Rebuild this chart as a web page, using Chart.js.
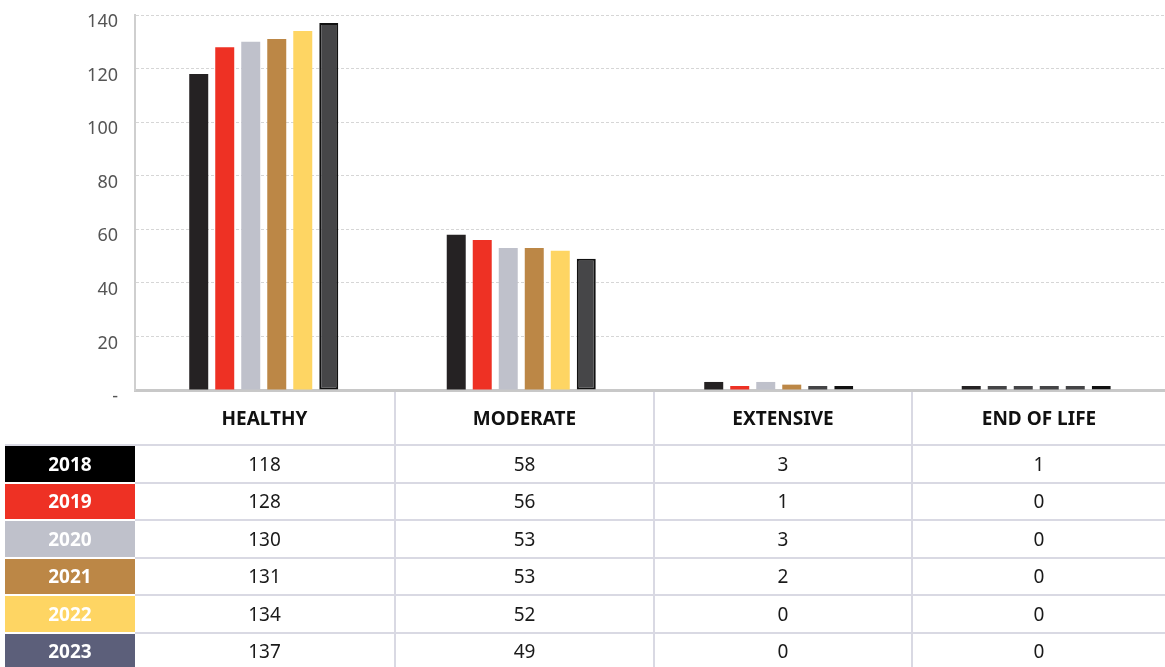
<!DOCTYPE html>
<html>
<head>
<meta charset="utf-8">
<script src="https://cdn.jsdelivr.net/npm/chart.js@4/dist/chart.umd.min.js"></script>
<style>
  html, body { margin: 0; padding: 0; background: #fff; }
  #wrap { position: relative; width: 1165px; height: 667px; overflow: hidden; }
  #chartBox { position: absolute; left: 0; top: 0; width: 1165px; height: 405px; }
  table {
    position: absolute; left: 5px; top: 392px;
    border-collapse: collapse; table-layout: fixed;
    font-family: "Noto Sans", sans-serif; color: #1a1a1a;
  }
  th, td { padding: 0; text-align: center; box-sizing: border-box; }
  th { height: 53px; font-size: 19px; font-weight: 700; color: #111;
       border-bottom: 2px solid #d9d9e3; }
  td { height: 37.5px; font-size: 19px; border-bottom: 2px solid #d9d9e3; }
  th:nth-child(n+3), td:nth-child(n+3) { border-left: 2px solid #d9d9e3; }
  td.year { color: #fff; font-weight: 700; border-bottom: 2px solid #fff; }
</style>
</head>
<body>
<div id="wrap">
  <div id="chartBox"><canvas id="chart1" width="1165" height="405"></canvas></div>
  <table id="tab">
    <colgroup>
      <col style="width:130px"><col style="width:260px"><col style="width:259px">
      <col style="width:258px"><col style="width:253px">
    </colgroup>
    <thead><tr id="head"><th></th></tr></thead>
    <tbody id="body"></tbody>
  </table>
</div>
<script>
// categorie e valori per anno
const categorie = ["HEALTHY", "MODERATE", "EXTENSIVE", "END OF LIFE"];
const anni = ["2018", "2019", "2020", "2021", "2022", "2023"];
const v2018 = [118, 58, 3, 1];
const v2019 = [128, 56, 1, 0];
const v2020 = [130, 53, 3, 0];
const v2021 = [131, 53, 2, 0];
const v2022 = [134, 52, 0, 0];
const v2023 = [137, 49, 0, 0];
const valori = [v2018, v2019, v2020, v2021, v2022, v2023];
const yTicks = [0, 20, 40, 60, 80, 100, 120, 140];

// colori barre e celle anno
const coloriBarre = ["#252223", "#ee3124", "#bfc1cb", "#bc8746", "#fed563", "#464648"];
const coloriCelle = ["#000000", "#ee3124", "#bfc1cb", "#bc8746", "#fed563", "#5c5f7a"];

const datasets = anni.map((anno, i) => ({
    label: anno,
    data: valori[i],
    backgroundColor: ctx => ctx.raw === 0 ? "#444446" : coloriBarre[i],
    borderColor: "#111",
    borderWidth: i === 5 ? 2 : 0,
    borderSkipped: false,
    minBarLength: 4,
    categoryPercentage: 0.606,
    barPercentage: 0.73
}));

new Chart("chart1", {
    type: "bar",
    data: { labels: categorie, datasets: datasets },
    options: {
        responsive: false,
        animation: false,
        layout: { padding: { top: 15, right: 0, bottom: 0, left: 0 } },
        plugins: { legend: { display: false }, tooltip: { enabled: false } },
        scales: {
            x: {
                // spazio sotto l'asse per l'etichetta "-" dello zero
                afterFit: s => { s.height = 15; },
                grid: { display: false },
                ticks: { display: false },
                border: { display: true, color: "#c8c8c8", width: 3 }
            },
            y: {
                min: 0,
                max: 140,
                afterFit: s => {
                    s.width = 135;
                    s.paddingTop = 0;
                    s.paddingBottom = 0;
                },
                afterBuildTicks: s => { s.ticks = yTicks.map(v => ({ value: v })); },
                ticks: {
                    color: "#555",
                    padding: 17,
                    labelOffset: 7,
                    font: { family: "Noto Sans", size: 18 },
                    callback: v => v === 0 ? "-" : v
                },
                grid: { color: "#d6d6d6", lineWidth: 1, drawTicks: false },
                border: { display: true, color: "#cfcfcf", width: 2, dash: [3, 2] }
            }
        }
    }
});

// tabella sotto il grafico
const head = document.getElementById("head");
categorie.forEach(c => {
    const th = document.createElement("th");
    th.textContent = c;
    head.appendChild(th);
});
const body = document.getElementById("body");
anni.forEach((anno, i) => {
    const tr = document.createElement("tr");
    const td = document.createElement("td");
    td.className = "year";
    td.textContent = anno;
    td.style.background = coloriCelle[i];
    tr.appendChild(td);
    valori[i].forEach(v => {
        const c = document.createElement("td");
        c.textContent = v;
        tr.appendChild(c);
    });
    body.appendChild(tr);
});
</script>
</body>
</html>
